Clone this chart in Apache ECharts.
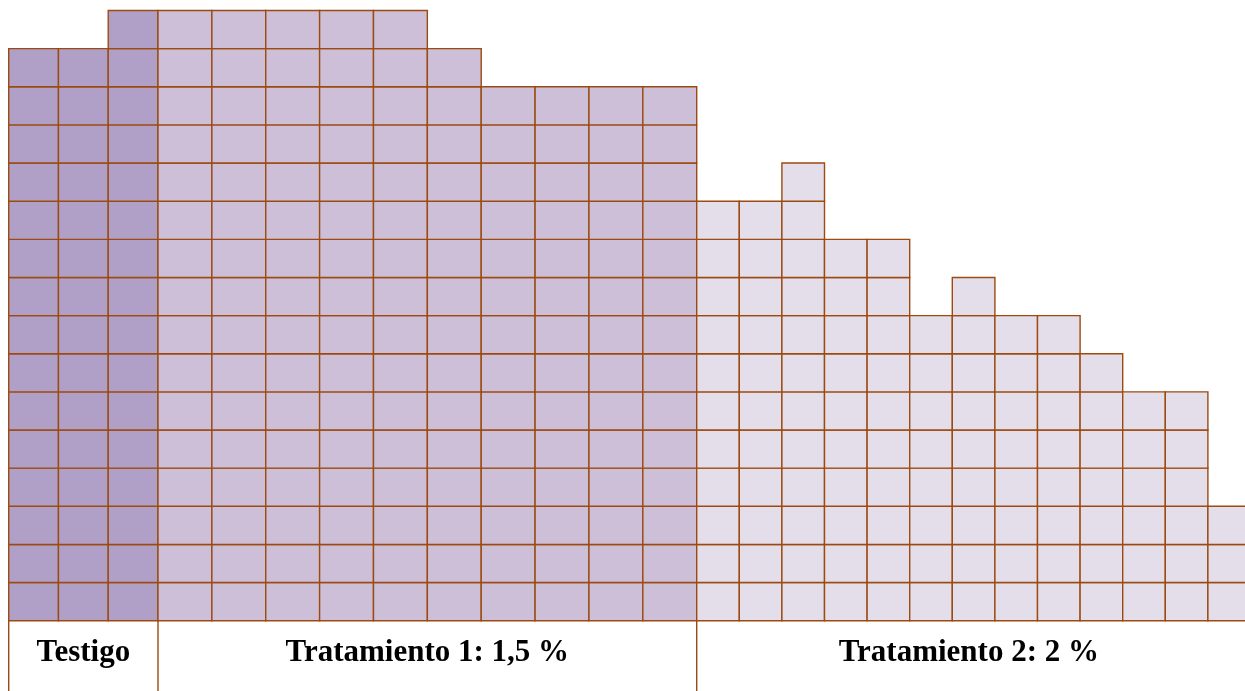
<!DOCTYPE html>
<html>
<head>
<meta charset="utf-8">
<script src="https://cdn.jsdelivr.net/npm/echarts@6/dist/echarts.min.js"></script>
<style>
  html, body { margin: 0; padding: 0; background: #ffffff; }
  #chart { width: 1245px; height: 691px; }
</style>
</head>
<body>
<div id="chart"></div>
<script>
// Group names shown in the footer row
const groupNames = ['Testigo', 'Tratamiento 1: 1,5 %', 'Tratamiento 2: 2 %'];

// Number of stacked cells in each column, per group
const testigo = [15, 15, 16];
const tratamiento1 = [16, 16, 16, 16, 16, 15, 14, 14, 14, 14];
const tratamiento2 = [11, 11, 12, 10, 10, 8, 9, 8, 8, 7, 6, 6, 3];

// Height of the value scale (cells)
const rowMax = 16;

const groupValues = [testigo, tratamiento1, tratamiento2];
const fills = ['#B0A0C7', '#CDBFD8', '#E4DEEB'];
const borderColor = '#9C4A10';

// Layout of the three panels (px); the last one runs past the right edge
const plotTop = 10.5;
const plotHeight = 610.2;
const panels = [
  { left: 8.7, width: 149.3 },
  { left: 158, width: 538.7 },
  { left: 696.7, width: 553.8 }
];
const footerTop = plotTop + plotHeight;
const footerBottom = 691;

function makeRenderItem(fill) {
  return function (params, api) {
    const col = api.value(0);
    const count = api.value(1);
    const w = api.size([1, 0])[0];
    const children = [];
    for (let r = 0; r < count; r++) {
      const lo = api.coord([col, r]);
      const hi = api.coord([col, r + 1]);
      children.push({
        type: 'rect',
        shape: { x: lo[0] - w / 2, y: hi[1], width: w, height: lo[1] - hi[1] },
        style: { fill: fill, stroke: borderColor, lineWidth: 1.4 }
      });
    }
    return { type: 'group', children: children };
  };
}

const grid = panels.map(p => ({
  left: p.left,
  width: p.width,
  top: plotTop,
  height: plotHeight,
  outerBoundsMode: 'none',
  containLabel: false
}));
const xAxis = groupValues.map((vals, i) => ({
  type: 'category',
  gridIndex: i,
  data: vals.map((_, k) => String(k + 1)),
  boundaryGap: true,
  show: false
}));
const yAxis = groupValues.map((_, i) => ({
  type: 'value',
  gridIndex: i,
  min: 0,
  max: rowMax,
  show: false
}));
const series = groupValues.map((vals, i) => ({
  type: 'custom',
  xAxisIndex: i,
  yAxisIndex: i,
  renderItem: makeRenderItem(fills[i]),
  encode: { x: 0, y: 1 },
  data: vals.map((v, k) => [k, v]),
  silent: true,
  clip: false
}));

// Footer: label cells with their divider lines
const graphic = [];
panels.forEach(p => {
  graphic.push({
    type: 'line',
    shape: { x1: p.left, y1: footerTop, x2: p.left, y2: footerBottom },
    style: { stroke: borderColor, lineWidth: 1.4 },
    silent: true
  });
});
const labelCenters = [
  (panels[0].left + panels[1].left) / 2,
  (panels[1].left + panels[2].left) / 2,
  (panels[2].left + 1245) / 2 - 2
];
groupNames.forEach((name, i) => {
  graphic.push({
    type: 'text',
    x: labelCenters[i],
    y: 653,
    style: {
      text: name,
      fill: '#000000',
      font: 'bold 31px "Liberation Serif", "Times New Roman", serif',
      align: 'center',
      verticalAlign: 'middle'
    },
    silent: true
  });
});

const chart = echarts.init(document.getElementById('chart'), null, { renderer: 'canvas' });
chart.setOption({
  animation: false,
  backgroundColor: '#ffffff',
  grid: grid,
  xAxis: xAxis,
  yAxis: yAxis,
  series: series,
  graphic: graphic
});
</script>
</body>
</html>
